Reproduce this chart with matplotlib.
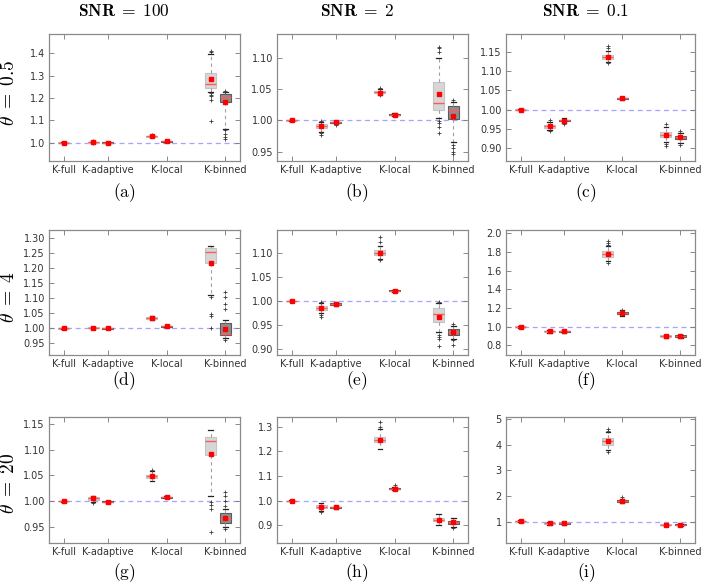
import matplotlib
matplotlib.use("Agg")
import matplotlib.pyplot as plt
from matplotlib.ticker import FormatStrFormatter

plt.rcParams['mathtext.fontset'] = 'cm'
plt.rcParams['font.family'] = ['DejaVu Sans']

positions = [1, 3, 4, 7, 8, 11, 12]
tick_pos = [1, 4, 8, 12]
tick_labels = ["K-full", "K-adaptive", "K-local", "K-binned"]
col_titles = ["100", "2", "0.1"]
row_titles = ["0.5", "4", "20"]
panel_labels = ["a", "b", "c", "d", "e", "f", "g", "h", "i"]

# ---- panel (a) ----
a_med = [1.000, 1.002, 1.000, 1.028, 1.005, 1.262, 1.206]
a_q1 = [0.999, 1.000, 0.999, 1.026, 1.004, 1.244, 1.183]
a_q3 = [1.001, 1.003, 1.001, 1.031, 1.006, 1.311, 1.217]
a_wlo = [0.998, 0.997, 0.998, 1.024, 1.003, 1.225, 1.060]
a_whi = [1.002, 1.006, 1.002, 1.033, 1.007, 1.395, 1.225]
a_mean = [1.000, 1.001, 1.000, 1.028, 1.005, 1.287, 1.180]
a_fl = [[], [1.007, 0.996], [], [1.034], [],
        [1.412, 1.405, 1.22, 1.215, 1.21, 1.19, 1.095],
        [1.23, 1.228, 1.055, 1.04, 1.025, 1.015]]
# ---- panel (b) ----
b_med = [1.000, 0.991, 0.997, 1.045, 1.009, 1.028, 1.017]
b_q1 = [0.9995, 0.988, 0.996, 1.043, 1.008, 1.017, 1.002]
b_q3 = [1.0005, 0.994, 0.998, 1.047, 1.010, 1.062, 1.023]
b_wlo = [0.999, 0.982, 0.994, 1.041, 1.007, 1.003, 0.965]
b_whi = [1.001, 0.998, 0.999, 1.050, 1.011, 1.100, 1.030]
b_mean = [1.000, 0.991, 0.997, 1.044, 1.009, 1.042, 1.007]
b_fl = [[], [0.979, 0.977, 0.999], [0.993], [1.052, 1.040], [],
        [1.118, 1.115, 1.11, 0.999, 0.995, 0.99, 0.979],
        [1.033, 0.960, 0.955, 0.950, 0.946]]
# ---- panel (c) ----
c_med = [1.000, 0.956, 0.972, 1.137, 1.030, 0.935, 0.928]
c_q1 = [0.999, 0.952, 0.969, 1.131, 1.028, 0.929, 0.924]
c_q3 = [1.001, 0.961, 0.974, 1.143, 1.031, 0.941, 0.932]
c_wlo = [0.998, 0.946, 0.964, 1.124, 1.026, 0.915, 0.913]
c_whi = [1.002, 0.968, 0.978, 1.152, 1.033, 0.955, 0.940]
c_mean = [1.000, 0.956, 0.971, 1.136, 1.030, 0.934, 0.928]
c_fl = [[], [0.943, 0.972], [0.962], [1.166, 1.160, 1.121], [],
        [0.962, 0.910, 0.904], [0.943, 0.907]]
# ---- panel (d) ----
d_med = [1.000, 1.002, 1.000, 1.034, 1.006, 1.253, 0.981]
d_q1 = [0.999, 1.001, 0.999, 1.032, 1.005, 1.218, 0.976]
d_q3 = [1.001, 1.003, 1.001, 1.037, 1.007, 1.266, 1.019]
d_wlo = [0.998, 0.999, 0.998, 1.029, 1.004, 1.111, 0.966]
d_whi = [1.002, 1.004, 1.002, 1.040, 1.008, 1.275, 1.027]
d_mean = [1.000, 1.001, 1.000, 1.034, 1.006, 1.218, 0.998]
d_fl = [[], [], [], [], [], [1.105, 1.048, 1.042, 1.000],
        [1.122, 1.105, 1.081, 1.063, 0.962]]
# ---- panel (e) ----
e_med = [1.000, 0.986, 0.994, 1.100, 1.021, 0.972, 0.936]
e_q1 = [0.9995, 0.982, 0.992, 1.095, 1.020, 0.956, 0.929]
e_q3 = [1.0005, 0.989, 0.996, 1.106, 1.022, 0.985, 0.942]
e_wlo = [0.999, 0.975, 0.989, 1.088, 1.018, 0.935, 0.921]
e_whi = [1.001, 0.995, 0.998, 1.115, 1.024, 0.995, 0.948]
e_mean = [1.000, 0.986, 0.993, 1.100, 1.021, 0.966, 0.935]
e_fl = [[], [0.970, 0.967, 0.998], [], [1.122, 1.133, 1.086], [],
        [0.998, 0.930, 0.925, 0.921, 0.907], [0.952, 0.918, 0.908]]
# ---- panel (f) ----
f_med = [1.000, 0.950, 0.950, 1.777, 1.146, 0.900, 0.900]
f_q1 = [0.995, 0.943, 0.943, 1.750, 1.135, 0.893, 0.893]
f_q3 = [1.005, 0.957, 0.957, 1.810, 1.157, 0.907, 0.907]
f_wlo = [0.990, 0.930, 0.935, 1.700, 1.120, 0.880, 0.880]
f_whi = [1.010, 0.965, 0.965, 1.860, 1.175, 0.915, 0.915]
f_mean = [1.000, 0.950, 0.950, 1.777, 1.146, 0.900, 0.900]
f_fl = [[], [], [], [1.92, 1.90, 1.88, 1.68], [1.18], [], []]
# ---- panel (g) ----
g_med = [1.000, 1.006, 0.999, 1.048, 1.008, 1.116, 0.966]
g_q1 = [0.9995, 1.003, 0.998, 1.045, 1.007, 1.089, 0.957]
g_q3 = [1.0005, 1.008, 1.000, 1.051, 1.009, 1.125, 0.977]
g_wlo = [0.999, 0.998, 0.997, 1.040, 1.006, 1.010, 0.950]
g_whi = [1.001, 1.010, 1.001, 1.058, 1.010, 1.138, 0.985]
g_mean = [1.000, 1.006, 0.999, 1.048, 1.008, 1.092, 0.968]
g_fl = [[], [0.996], [], [1.061], [], [0.998, 0.993, 0.985, 0.941],
        [1.017, 1.010, 1.000, 0.990, 0.946]]
# ---- panel (h) ----
h_med = [1.000, 0.976, 0.973, 1.247, 1.049, 0.924, 0.914]
h_q1 = [0.999, 0.970, 0.971, 1.237, 1.046, 0.917, 0.907]
h_q3 = [1.001, 0.981, 0.975, 1.258, 1.052, 0.930, 0.920]
h_wlo = [0.998, 0.960, 0.967, 1.210, 1.043, 0.900, 0.895]
h_whi = [1.002, 0.990, 0.978, 1.290, 1.057, 0.945, 0.930]
h_mean = [1.000, 0.976, 0.973, 1.247, 1.049, 0.924, 0.914]
h_fl = [[], [0.955], [], [1.30, 1.32], [1.062], [], [0.888]]
# ---- panel (i) ----
i_med = [1.01, 0.935, 0.93, 4.14, 1.81, 0.87, 0.87]
i_q1 = [0.99, 0.91, 0.91, 4.00, 1.77, 0.85, 0.85]
i_q3 = [1.03, 0.96, 0.95, 4.28, 1.85, 0.89, 0.89]
i_wlo = [0.97, 0.88, 0.88, 3.80, 1.72, 0.83, 0.83]
i_whi = [1.05, 0.99, 0.98, 4.50, 1.90, 0.91, 0.91]
i_mean = [1.01, 0.935, 0.93, 4.14, 1.81, 0.87, 0.87]
i_fl = [[], [], [], [4.62, 4.55, 3.72], [1.95], [], []]

ylims = [(0.917, 1.487), (0.935, 1.138), (0.866, 1.197),
         (0.911, 1.327), (0.8875, 1.148), (0.697, 2.036),
         (0.919, 1.163), (0.829, 1.339), (0.16, 5.09)]
yticks = [[1.0, 1.1, 1.2, 1.3, 1.4],
          [0.95, 1.00, 1.05, 1.10],
          [0.90, 0.95, 1.00, 1.05, 1.10, 1.15],
          [0.95, 1.00, 1.05, 1.10, 1.15, 1.20, 1.25, 1.30],
          [0.90, 0.95, 1.00, 1.05, 1.10],
          [0.8, 1.0, 1.2, 1.4, 1.6, 1.8, 2.0],
          [0.95, 1.00, 1.05, 1.10, 1.15],
          [0.9, 1.0, 1.1, 1.2, 1.3],
          [1, 2, 3, 4, 5]]
yfmts = ["%.1f", "%.2f", "%.2f", "%.2f", "%.2f", "%.1f", "%.2f", "%.1f", "%d"]

panels = [
    (a_med, a_q1, a_q3, a_wlo, a_whi, a_mean, a_fl),
    (b_med, b_q1, b_q3, b_wlo, b_whi, b_mean, b_fl),
    (c_med, c_q1, c_q3, c_wlo, c_whi, c_mean, c_fl),
    (d_med, d_q1, d_q3, d_wlo, d_whi, d_mean, d_fl),
    (e_med, e_q1, e_q3, e_wlo, e_whi, e_mean, e_fl),
    (f_med, f_q1, f_q3, f_wlo, f_whi, f_mean, f_fl),
    (g_med, g_q1, g_q3, g_wlo, g_whi, g_mean, g_fl),
    (h_med, h_q1, h_q3, h_wlo, h_whi, h_mean, h_fl),
    (i_med, i_q1, i_q3, i_wlo, i_whi, i_mean, i_fl),
]

W, H = 702, 583
fig = plt.figure(figsize=(W / 100, H / 100), dpi=100)

col_lr = [(49, 240), (277, 468), (506, 695)]
row_tb = [(34, 161), (230, 355), (417, 543)]
sub_cx = [124, 357, 586]
label_y = [193, 381, 573]
row_cy = [93, 297, 483]

light = '#d6d6d6'
dark = '#8e8e8e'
face_colors = [light, light, dark, light, dark, light, dark]
edge_colors = ['#c4c4c4', '#c4c4c4', '#5a5a5a', '#c4c4c4', '#5a5a5a', '#c4c4c4', '#5a5a5a']

for idx, (med, q1, q3, wlo, whi, mean, fl) in enumerate(panels):
    r, c = divmod(idx, 3)
    l, rr = col_lr[c]
    t, b = row_tb[r]
    ax = fig.add_axes([l / W, 1 - b / H, (rr - l) / W, (b - t) / H])
    stats = []
    for k in range(len(positions)):
        stats.append(dict(med=med[k], q1=q1[k], q3=q3[k], whislo=wlo[k],
                          whishi=whi[k], mean=mean[k], fliers=fl[k]))
    ax.axhline(1.0, color='#7f7fff', lw=0.9, ls=(0, (4, 3)), alpha=0.7, zorder=0)
    bp = ax.bxp(stats, positions=positions, widths=0.75, patch_artist=True,
                showmeans=True,
                medianprops=dict(color='#ff5a5a', lw=1.0),
                meanprops=dict(marker='s', markerfacecolor='#ff0000',
                               markeredgecolor='#ff0000', markersize=3),
                whiskerprops=dict(color='#a0a0a0', lw=0.8, ls=(0, (3, 3))),
                capprops=dict(color='#222222', lw=0.9),
                capwidths=0.3,
                flierprops=dict(marker='+', markeredgecolor='#3a3a3a',
                                markersize=3.2, markeredgewidth=0.6))
    for k, box in enumerate(bp['boxes']):
        box.set_facecolor(face_colors[k])
        box.set_edgecolor(edge_colors[k])
        box.set_linewidth(0.8)
    ax.set_xlim(0, 13)
    ax.set_ylim(*ylims[idx])
    ax.set_xticks(tick_pos)
    ax.set_xticklabels(tick_labels)
    ax.set_yticks(yticks[idx])
    ax.yaxis.set_major_formatter(FormatStrFormatter(yfmts[idx]))
    ax.tick_params(direction='in', top=True, right=True, length=3.5,
                   width=0.6, color='#777777', labelsize=7,
                   labelcolor='#333333', pad=3)
    for s in ax.spines.values():
        s.set_color('#8a8a8a')
        s.set_linewidth(0.9)
    fig.text(sub_cx[c] / W, 1 - label_y[r] / H, r'$\mathrm{(%s)}$' % panel_labels[idx],
             ha='center', va='center', fontsize=12.5)

for c in range(3):
    fig.text(sub_cx[c] / W, 1 - 11 / H, r'$\mathbf{SNR}\;\mathbf{=}\;\mathbf{%s}$' % col_titles[c],
             ha='center', va='center', fontsize=12.5)
for r in range(3):
    fig.text(9 / W, 1 - row_cy[r] / H, r'$\theta\;\mathbf{=}\;\mathbf{%s}$' % row_titles[r],
             ha='center', va='center', rotation=90, fontsize=14)

fig.savefig('out.png', dpi=100)
